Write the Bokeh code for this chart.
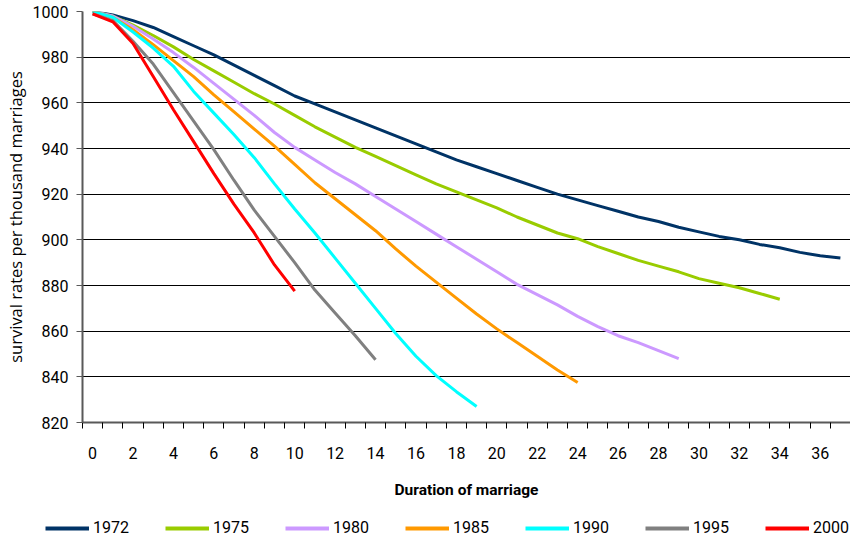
from bokeh.plotting import figure
from bokeh.models import Range1d, FixedTicker, Legend, LegendItem
from bokeh.embed import file_html
from bokeh.resources import INLINE

years = ["1972", "1975", "1980", "1985", "1990", "1995", "2000"]
s1972 = [1000, 998.5, 996, 993, 989, 985, 981, 976.5, 972, 967.5, 963, 959.5, 956, 952.5,
         949, 945.5, 942, 938.5, 935, 932, 929, 926, 923, 920, 917.5, 915, 912.5, 910, 908,
         905.5, 903.5, 901.5, 900, 898, 896.5, 894.5, 893, 892]
s1975 = [1000, 998, 994, 989.5, 984.5, 979, 974, 969, 964, 959.5, 954.5, 949.5, 945, 940.5,
         936.5, 932.5, 928.5, 924.5, 921, 917.5, 914, 910, 906.5, 903, 900.5, 897, 894, 891,
         888.5, 886, 883, 881, 879, 876.5, 874]
s1980 = [1000, 998, 993.5, 988, 982, 975.5, 968.5, 961.5, 954.5, 947, 940.5, 935, 929.5,
         924.5, 919, 913.5, 908, 902.5, 897, 891.5, 886, 880.5, 876, 871.5, 866.5, 862, 858,
         855, 851.5, 848]
s1985 = [1000, 997.5, 992, 985.5, 978.5, 971.5, 963.5, 956, 948.5, 941, 933, 925, 918, 911,
         904, 896, 888.5, 881.5, 874.5, 867.5, 861, 855, 849, 843, 837.5]
s1990 = [1000, 997.5, 991, 984, 976, 965, 955.5, 946, 936, 924.5, 913.5, 903, 892, 881, 870,
         859, 849, 840.5, 833.5, 827]
s1995 = [999, 996, 987, 977, 964.5, 952, 939.5, 926, 913, 901.5, 890, 878, 868, 858, 847.5]
s2000 = [999, 995.5, 986, 971.5, 957, 943, 929, 915.5, 903, 889, 877.5]
series = [s1972, s1975, s1980, s1985, s1990, s1995, s2000]
colors = ["#003366", "#99CC00", "#CC99FF", "#FF9900", "#00FFFF", "#808080", "#FF0000"]

x_labels = list(range(0, 37, 2))
x_bounds = [k - 0.5 for k in range(0, 39)]
y_ticks = list(range(820, 1001, 20))

FONT = "Roboto"

p = figure(width=850, height=520, output_backend="svg", toolbar_location=None,
           x_range=Range1d(-0.5, 37.5), y_range=Range1d(820, 1000),
           min_border_left=75, min_border_right=0, min_border_top=11, min_border_bottom=98)
p.outline_line_color = None
p.background_fill_color = "white"
p.border_fill_color = "white"

for vals, c in zip(series, colors):
    p.line(list(range(len(vals))), vals, line_color=c, line_width=3)

# x axis
xa = p.xaxis[0]
xa.ticker = FixedTicker(ticks=x_labels, minor_ticks=x_bounds)
xa.major_tick_out = 0
xa.major_tick_in = 0
xa.minor_tick_out = 6
xa.minor_tick_in = 0
xa.minor_tick_line_color = "#000000"
xa.axis_line_color = "#595959"
xa.axis_line_width = 2
xa.major_label_standoff = 18
xa.major_label_text_font = FONT
xa.major_label_text_font_size = "16px"
xa.major_label_text_color = "#000000"
xa.axis_label = "Duration of marriage"
xa.axis_label_text_font = FONT
xa.axis_label_text_font_style = "bold"
xa.axis_label_text_font_size = "15.5px"
xa.axis_label_text_color = "#000000"
xa.axis_label_standoff = 19

# y axis
ya = p.yaxis[0]
ya.ticker = FixedTicker(ticks=y_ticks)
ya.major_tick_out = 6
ya.major_tick_in = 0
ya.minor_tick_out = 0
ya.minor_tick_in = 0
ya.major_tick_line_color = "#595959"
ya.axis_line_color = "#595959"
ya.axis_line_width = 2
ya.major_label_standoff = 8
ya.major_label_text_font = FONT
ya.major_label_text_font_size = "16px"
ya.major_label_text_color = "#000000"
ya.axis_label = "survival rates per thousand marriages"
ya.axis_label_text_font = "Open Sans"
ya.axis_label_text_font_style = "normal"
ya.axis_label_text_font_size = "16.5px"
ya.axis_label_text_color = "#000000"
ya.axis_label_standoff = 3

p.xgrid.grid_line_color = None
p.ygrid.ticker = FixedTicker(ticks=y_ticks)
p.ygrid.grid_line_color = "#000000"
p.ygrid.grid_line_width = 1

# legend strip below the chart, a separate root (its lines lie outside its visible range)
lg = figure(width=850, height=24, output_backend="svg", toolbar_location=None,
            x_axis_type=None, y_axis_type=None,
            x_range=Range1d(100, 101), y_range=Range1d(0, 1),
            min_border_left=0, min_border_right=0, min_border_top=0, min_border_bottom=0)
lg.outline_line_color = None
lg.xgrid.grid_line_color = None
lg.ygrid.grid_line_color = None
lg.background_fill_color = "white"
lg.border_fill_color = "white"

items = []
for yr, vals, c in zip(years, series, colors):
    r = lg.line(list(range(len(vals))), vals, line_color=c, line_width=4)
    items.append(LegendItem(label=yr, renderers=[r]))

legend = Legend(items=items, orientation="horizontal", location=(45, 7),
                glyph_width=44, glyph_height=16, label_height=16, label_width=36,
                label_standoff=4, spacing=36, padding=0, margin=0,
                border_line_color=None, background_fill_alpha=0,
                label_text_font=FONT, label_text_font_size="16px",
                label_text_color="#000000", label_text_baseline="middle")
lg.add_layout(legend, "center")

open("out.html", "w").write(file_html([p, lg], INLINE))
